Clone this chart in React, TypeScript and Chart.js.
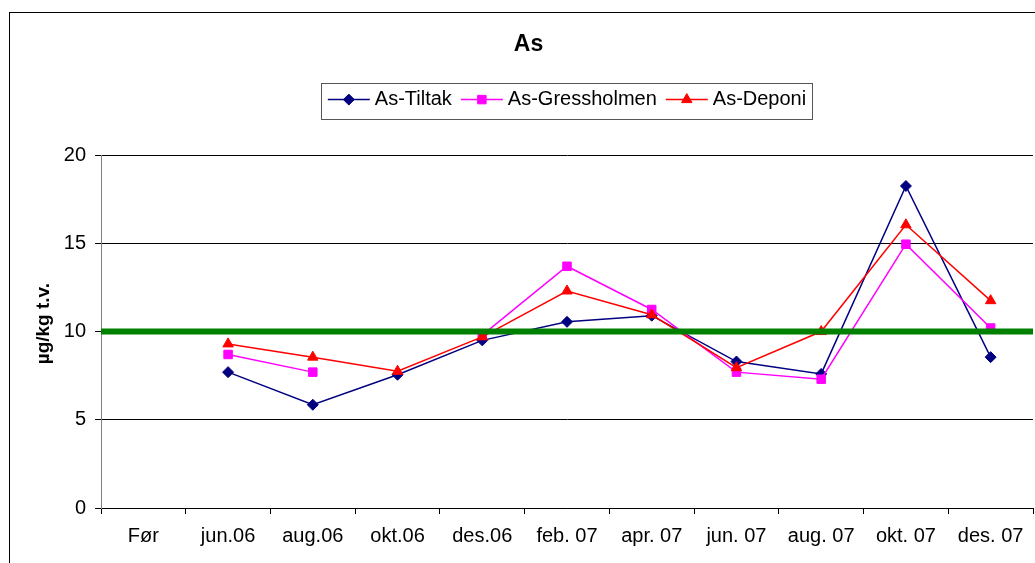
import React, { useEffect, useRef } from "react";
import { Chart, registerables } from "chart.js";

Chart.register(...registerables);

const categories = ["Før", "jun.06", "aug.06", "okt.06", "des.06", "feb. 07", "apr. 07", "jun. 07", "aug. 07", "okt. 07", "des. 07"];
const tiltak = [null, 7.7, 5.85, 7.55, 9.5, 10.55, 10.9, 8.3, 7.6, 18.25, 8.55];
const gressholmen = [null, 8.7, 7.7, null, 9.8, 13.7, 11.25, 7.7, 7.3, 14.95, 10.2];
const deponi = [null, 9.3, 8.55, 7.75, 9.7, 12.3, 10.95, 7.95, 10.0, 16.05, 11.75];
const limitValue = 10;
const yTicks = [0, 5, 10, 15, 20];

const FONT = "'Liberation Sans', Arial, sans-serif";

function drawMarker(ctx: CanvasRenderingContext2D, style: string, r: number, x: number, y: number) {
  ctx.beginPath();
  if (style === "rectRot") {
    ctx.moveTo(x - r, y);
    ctx.lineTo(x, y - r);
    ctx.lineTo(x + r, y);
    ctx.lineTo(x, y + r);
  } else if (style === "rect") {
    const s = Math.SQRT1_2 * r;
    ctx.rect(x - s, y - s, 2 * s, 2 * s);
  } else if (style === "triangle") {
    const a = (2 * Math.PI) / 3;
    ctx.moveTo(x, y - r);
    ctx.lineTo(x + Math.sin(a) * r, y - Math.cos(a) * r);
    ctx.lineTo(x + Math.sin(2 * a) * r, y - Math.cos(2 * a) * r);
  }
  ctx.closePath();
  ctx.fill();
  ctx.stroke();
}

const legendDecor = {
  id: "legendDecor",
  afterDraw(chart: any) {
    const lg = chart.legend;
    if (!lg || !lg.legendHitBoxes || !lg.legendHitBoxes.length) return;
    const ctx: CanvasRenderingContext2D = chart.ctx;
    const boxes = lg.legendHitBoxes;
    const items = lg.legendItems;
    const first = boxes[0];
    const last = boxes[boxes.length - 1];
    const midY = first.top + first.height / 2;
    ctx.save();
    ctx.strokeStyle = "#555";
    ctx.lineWidth = 1;
    const bl = Math.round(first.left - 7) + 0.5;
    const br = Math.round(last.left + last.width + 6) + 0.5;
    const bt = Math.round(midY - 17) + 0.5;
    const bb = Math.round(midY + 19) + 0.5;
    ctx.strokeRect(bl, bt, br - bl, bb - bt);
    boxes.forEach((hb: any, i: number) => {
      const ds = chart.data.datasets[items[i].datasetIndex];
      const cy = hb.top + hb.height / 2;
      ctx.strokeStyle = ds.borderColor;
      ctx.lineWidth = 1.5;
      ctx.beginPath();
      ctx.moveTo(hb.left, cy);
      ctx.lineTo(hb.left + 42, cy);
      ctx.stroke();
      ctx.fillStyle = ds.pointBackgroundColor;
      ctx.strokeStyle = ds.pointBorderColor;
      ctx.lineWidth = 1;
      drawMarker(ctx, ds.pointStyle, ds.pointRadius, hb.left + 21, cy);
    });
    ctx.restore();
  },
};

export default function App() {
  const ref = useRef<HTMLCanvasElement | null>(null);
  useEffect(() => {
    if (!ref.current) return;
    Chart.defaults.font.family = FONT;
    Chart.defaults.color = "#000";
    const chart = new Chart(ref.current, {
      type: "line",
      data: {
        labels: categories,
        datasets: [
          {
            label: "As-Tiltak",
            data: tiltak,
            borderColor: "#000080",
            backgroundColor: "#000080",
            pointBackgroundColor: "#000080",
            pointBorderColor: "#000080",
            pointStyle: "rectRot",
            pointRadius: 5.5,
            pointBorderWidth: 1,
            borderWidth: 1.5,
            spanGaps: false,
            order: 3,
            xAxisID: "x",
          } as any,
          {
            label: "As-Gressholmen",
            data: gressholmen,
            borderColor: "#FF00FF",
            backgroundColor: "#FF00FF",
            pointBackgroundColor: "#FF00FF",
            pointBorderColor: "#FF00FF",
            pointStyle: "rect",
            pointRadius: 6,
            pointBorderWidth: 1,
            borderWidth: 1.5,
            spanGaps: false,
            order: 2,
            xAxisID: "x",
          },
          {
            label: "As-Deponi",
            data: deponi,
            borderColor: "#FF0000",
            backgroundColor: "#FF0000",
            pointBackgroundColor: "#FF0000",
            pointBorderColor: "#FF0000",
            pointStyle: "triangle",
            pointRadius: 6,
            pointBorderWidth: 1,
            borderWidth: 1.5,
            spanGaps: false,
            order: 1,
            xAxisID: "x",
          },
          {
            label: "",
            data: [
              { x: 0, y: limitValue },
              { x: 1, y: limitValue },
            ],
            borderColor: "#008000",
            backgroundColor: "#008000",
            borderWidth: 6,
            borderCapStyle: "butt",
            pointRadius: 0,
            order: 0,
            xAxisID: "x2",
          } as any,
        ],
      },
      options: {
        responsive: false,
        animation: false,
        events: [],
        layout: { autoPadding: false, padding: { top: 13, left: 24, right: 2, bottom: 0 } },
        plugins: {
          tooltip: { enabled: false },
          title: {
            display: true,
            text: "As",
            color: "#000",
            font: { size: 23, weight: "bold", family: FONT },
            padding: { top: 18, bottom: 22 },
          },
          legend: {
            display: true,
            position: "top",
            fullSize: false,
            labels: {
              color: "#000",
              font: { size: 20, family: FONT },
              boxWidth: 37,
              boxHeight: 2,
              padding: 9,
              generateLabels: (chart: any) =>
                chart.data.datasets
                  .map((ds: any, i: number) => ({
                    text: ds.label,
                    fillStyle: "rgba(0,0,0,0)",
                    strokeStyle: "rgba(0,0,0,0)",
                    lineWidth: 0,
                    hidden: false,
                    datasetIndex: i,
                    fontColor: "#000",
                  }))
                  .filter((l: any) => l.text),
              sort: (a: any, b: any) => a.datasetIndex - b.datasetIndex,
            },
          },
        },
        scales: {
          x: {
            type: "category",
            offset: true,
            grid: {
              display: true,
              drawOnChartArea: false,
              drawTicks: true,
              tickLength: 6,
              color: "#000",
              offset: true,
            },
            border: { display: true, color: "#000", width: 1 },
            ticks: {
              color: "#000",
              font: { size: 20, family: FONT },
              padding: 10,
              maxRotation: 0,
              autoSkip: false,
            },
            afterFit: (s: any) => {
              s.height = 55;
              s.paddingLeft = 0;
              s.paddingRight = 0;
            },
          },
          x2: {
            type: "linear",
            position: "top",
            min: 0,
            max: 1,
            display: true,
            grid: { display: false },
            border: { display: false },
            ticks: { display: false },
            afterFit: (s: any) => {
              s.height = 35.5;
              s.paddingLeft = 0;
              s.paddingRight = 0;
            },
          },
          y: {
            type: "linear",
            min: 0,
            max: 20,
            afterBuildTicks: (s: any) => {
              s.ticks = yTicks.map((v) => ({ value: v }));
            },
            grid: {
              display: true,
              drawOnChartArea: true,
              drawTicks: true,
              tickLength: 6,
              color: "#000",
              lineWidth: 1,
            },
            border: { display: true, color: "#808080", width: 1 },
            ticks: {
              color: "#000",
              font: { size: 20, family: FONT },
              padding: 9,
            },
            title: {
              display: true,
              text: "   µg/kg t.v.",
              color: "#000",
              font: { size: 19, weight: "bold", family: FONT },
              padding: { top: 8, bottom: 0 },
            },
            afterFit: (s: any) => {
              s.width = 77;
            },
          },
        },
      } as any,
      plugins: [legendDecor],
    });
    return () => chart.destroy();
  }, []);

  return (
    <div style={{ position: "fixed", left: 0, top: 0, width: 1035, height: 563, background: "#fff", overflow: "hidden" }}>
      <div
        style={{
          position: "absolute",
          left: 9,
          top: 12,
          width: 1100,
          height: 600,
          borderLeft: "1px solid #000",
          borderTop: "1px solid #000",
        }}
      />
      <canvas ref={ref} width={1035} height={563} style={{ position: "absolute", left: 0, top: 0, width: 1035, height: 563 }} />
    </div>
  );
}
